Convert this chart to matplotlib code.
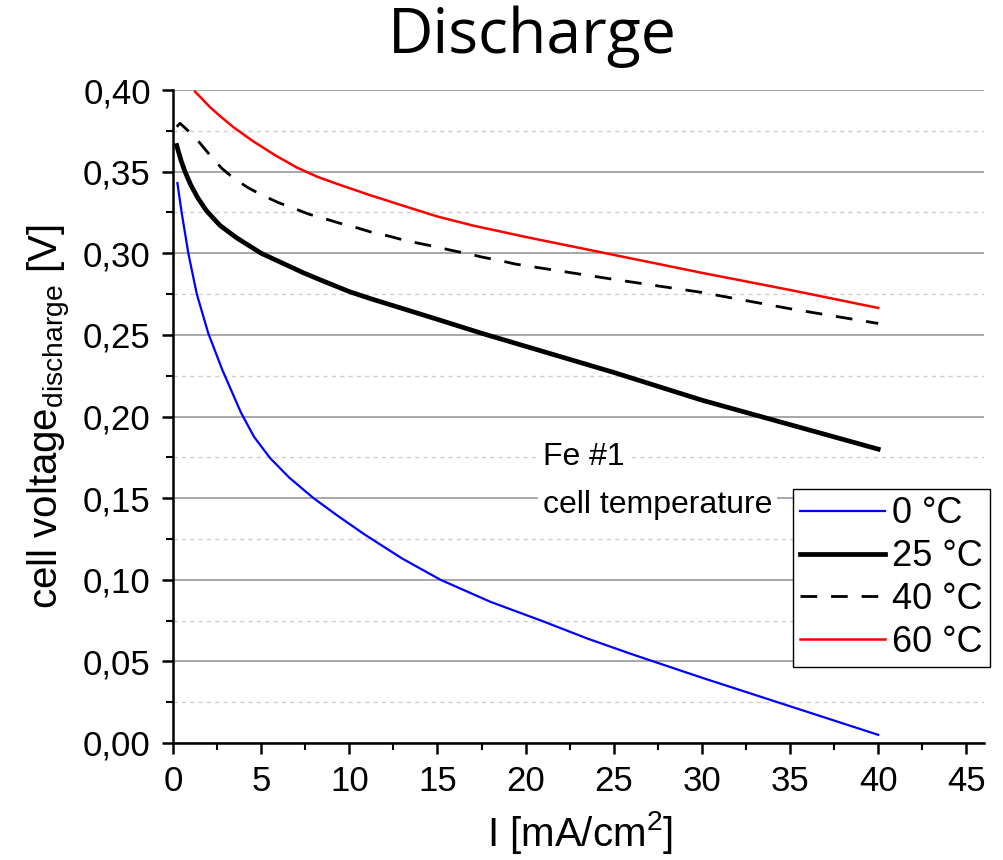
import matplotlib
matplotlib.use("Agg")
import matplotlib.pyplot as plt
from matplotlib.ticker import MultipleLocator, FuncFormatter

plt.rcParams['font.family'] = ['Liberation Sans', 'DejaVu Sans']
plt.rcParams['mathtext.default'] = 'regular'

# ---- data ----
x_0C = [0.25, 0.49, 0.87, 1.35, 2.0, 2.8, 3.85, 4.6, 5.51, 6.6, 7.97, 9.3, 10.9,
        13.0, 15.17, 18.0, 21.0, 23.5, 26.0, 30.0, 35.0, 40.0]
v_0C = [0.343, 0.325, 0.300, 0.275, 0.251, 0.2285, 0.2025, 0.1875, 0.1745, 0.1625,
        0.150, 0.1395, 0.1275, 0.113, 0.100, 0.0865, 0.0745, 0.064, 0.0545, 0.040,
        0.0225, 0.005]

x_25C = [0.21, 0.45, 0.68, 1.0, 1.4, 1.9, 2.67, 3.6, 5.0, 6.2, 7.4, 8.4, 10.0, 11.2,
         13.0, 15.0, 17.5, 20.0, 25.0, 30.0, 35.0, 40.0]
v_25C = [0.366, 0.357, 0.350, 0.342, 0.334, 0.326, 0.317, 0.3095, 0.300, 0.294, 0.288,
         0.2835, 0.2765, 0.2722, 0.2662, 0.2595, 0.251, 0.243, 0.227, 0.210, 0.195,
         0.180]

x_40C = [0.21, 0.4, 0.86, 1.53, 2.1, 2.77, 3.43, 4.28, 5.04, 5.98, 6.74, 7.69, 8.54,
         9.49, 10.34, 11.29, 12.14, 13.08, 13.94, 14.9, 15.7, 16.8, 17.6, 18.6, 19.4,
         25.0, 30.0, 35.0, 40.0]
v_40C = [0.3775, 0.3796, 0.375, 0.3675, 0.360, 0.352, 0.346, 0.340, 0.3357, 0.331,
         0.328, 0.324, 0.3214, 0.3183, 0.3159, 0.3128, 0.3108, 0.3081, 0.3061, 0.304,
         0.302, 0.2995, 0.2975, 0.2954, 0.2934, 0.284, 0.276, 0.266, 0.257]

x_60C = [1.25, 1.7, 2.1, 2.67, 3.43, 4.56, 5.8, 7.03, 8.2, 9.3, 11.2, 13.09, 15.0,
         17.0, 20.0, 25.0, 30.0, 35.0, 40.0]
v_60C = [0.399, 0.394, 0.3895, 0.384, 0.3772, 0.3685, 0.360, 0.3525, 0.3468, 0.3425,
         0.3355, 0.329, 0.3225, 0.317, 0.310, 0.299, 0.288, 0.2775, 0.2665]

labels = ['0 °C', '25 °C', '40 °C', '60 °C']

fig = plt.figure(figsize=(10.04, 8.6), dpi=100)
ax = fig.add_axes([173/1004, 1-743/860, (984-173)/1004, (743-90)/860])

ax.plot(x_0C, v_0C, color='#0000ff', lw=1.6, label=labels[0], zorder=3,
        solid_joinstyle='round')
ax.plot(x_25C, v_25C, color='black', lw=3.4, label=labels[1], zorder=3,
        solid_joinstyle='round')
ax.plot(x_40C, v_40C, color='black', lw=2.0, dashes=(6, 5), label=labels[2], zorder=3)
ax.plot(x_60C, v_60C, color='#ff0000', lw=1.8, label=labels[3], zorder=3,
        solid_joinstyle='round')

ax.set_xlim(0, 46)
ax.set_ylim(0, 0.40)
ax.xaxis.set_major_locator(MultipleLocator(5))
ax.xaxis.set_minor_locator(MultipleLocator(2.5))
ax.yaxis.set_major_locator(MultipleLocator(0.05))
ax.yaxis.set_minor_locator(MultipleLocator(0.025))
ax.yaxis.set_major_formatter(FuncFormatter(lambda v, p: f"{v:.2f}".replace('.', ',')))
ax.xaxis.set_major_formatter(FuncFormatter(lambda v, p: f"{v:g}"))

ax.grid(axis='y', which='major', color='#a0a0a0', lw=1.3, ls='-', zorder=0)
ax.grid(axis='y', which='minor', color='#cfcfcf', lw=1.0, ls=(0, (3, 3)), zorder=0)
ax.set_axisbelow(True)

for s in ['top', 'right']:
    ax.spines[s].set_visible(False)
for s in ['left', 'bottom']:
    ax.spines[s].set_linewidth(1.8)

ax.tick_params(which='major', direction='out', length=8, width=1.8, labelsize=25, pad=8)
ax.tick_params(which='minor', direction='out', length=5, width=1.5)

leg = ax.legend(loc='upper left', bbox_to_anchor=(793/1004, 1-489/860),
                bbox_transform=fig.transFigure, borderaxespad=0, fontsize=26,
                frameon=True, fancybox=False, edgecolor='black', framealpha=1,
                handlelength=2.35, handletextpad=0.2, labelspacing=0.22,
                borderpad=0.2)
leg.get_frame().set_linewidth(1.0)

box = dict(boxstyle='square,pad=0.15', fc='white', ec='none')
fig.text(543/1004, 1-457/860, 'Fe #1', fontsize=23, ha='left', va='center', bbox=box)
fig.text(543/1004, 1-505/860, 'cell temperature', fontsize=23, ha='left', va='center',
         bbox=box)

fig.text(532/1004, 1-37/860, 'Discharge', fontsize=45, ha='center', va='center',
         family=['Open Sans', 'DejaVu Sans'])
fig.text(580/1004, 1-833/860, 'I [mA/cm$^{2}$]', fontsize=29, ha='center', va='center')
fig.text(50/1004, 1-417/860, 'cell voltage$_{discharge}$ [V]', fontsize=29,
         ha='center', va='center', rotation=90)

fig.savefig('out.png', dpi=100)
